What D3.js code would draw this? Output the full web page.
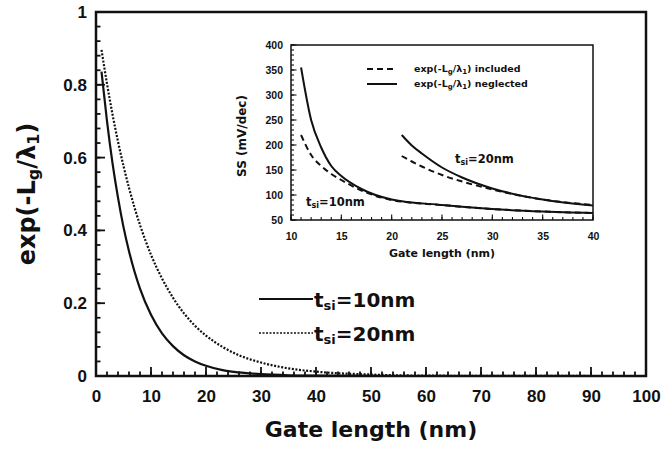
<!DOCTYPE html>
<html>
<head>
<meta charset="utf-8">
<script src="https://cdn.jsdelivr.net/npm/d3@7"></script>
<style>
body { margin: 0; background: #fff; }
svg { display: block; font-family: "DejaVu Sans", sans-serif; font-weight: bold; }
</style>
</head>
<body>
<div id="chart"></div>
<script>
// main plot: exp(-Lg/lambda1) vs gate length
const gateLen = [1, 2, 3, 4, 5, 6, 7, 8, 10, 12, 14, 16, 18, 20, 23, 26, 30, 35, 40, 50, 60, 80, 100];
const expTsi10 = [0.836, 0.700, 0.585, 0.490, 0.409, 0.343, 0.287, 0.240, 0.168, 0.117, 0.082, 0.057, 0.040, 0.028, 0.016, 0.010, 0.005, 0.002, 0.001, 0.0001, 0, 0, 0];
const expTsi20 = [0.896, 0.803, 0.719, 0.644, 0.577, 0.517, 0.463, 0.415, 0.333, 0.268, 0.215, 0.172, 0.138, 0.111, 0.080, 0.057, 0.037, 0.021, 0.012, 0.004, 0.001, 0.0002, 0];
const mainXTicks = [0, 10, 20, 30, 40, 50, 60, 70, 80, 90, 100];
const mainYTicks = [0, 0.2, 0.4, 0.6, 0.8, 1];

// inset: subthreshold swing
const ssLen10 = [11, 12, 13, 14, 15, 17, 20, 25, 30, 35, 40];
const ssNegl10 = [355, 250, 195, 158, 138, 112, 91, 80, 72, 67, 64];
const ssIncl10 = [220, 180, 158, 142, 130, 109, 90, 80, 72, 67, 64];
const ssLen20 = [21, 22, 23, 25, 27, 30, 35, 40];
const ssNegl20 = [220, 199, 183, 155, 135, 113, 91, 79];
const ssIncl20 = [178, 167, 157, 140, 127, 111, 91, 80];
const insetXTicks = [10, 15, 20, 25, 30, 35, 40];
const insetYTicks = [50, 100, 150, 200, 250, 300, 350, 400];

const W = 664, H = 451;
const svg = d3.select("#chart").append("svg")
	.attr("width", W)
	.attr("height", H);
svg.append("rect").attr("width", W).attr("height", H).attr("fill", "#fff");

// write text with subscripts, parts = [[text, isSub], ...]
function richText(sel, parts, subSize) {
	parts.forEach(p => {
		const t = sel.append("tspan").text(p[0]);
		if (p[1]) t.attr("font-size", subSize).attr("baseline-shift", "-25%");
	});
	return sel;
}

// tick labels from d3.axis, tick marks drawn inward by hand
function addLabels(axis, transform, fontSize) {
	const g = svg.append("g").attr("transform", transform).call(axis.tickSize(0));
	g.select(".domain").remove();
	g.selectAll("text").attr("font-size", fontSize).attr("fill", "#111");
	return g;
}
function addTicks(scale, values, vertical, base, len, width) {
	svg.append("g").selectAll("line")
		.data(values)
		.join("line")
		.attr("x1", d => vertical ? base : scale(d))
		.attr("x2", d => vertical ? base + len : scale(d))
		.attr("y1", d => vertical ? scale(d) : base)
		.attr("y2", d => vertical ? scale(d) : base - len)
		.attr("stroke", "#111").attr("stroke-width", width);
}

// ---------- main plot ----------
const X = d3.scaleLinear().domain([0, 100]).range([96, 646]);
const Y = d3.scaleLinear().domain([0, 1]).range([376, 12]);

addTicks(X, d3.range(0, 101, 2), false, 376, 4.5, 1.8);
addTicks(X, mainXTicks, false, 376, 9, 1.8);
addTicks(Y, d3.range(0, 1.001, 0.04), true, 96, 4.5, 1.8);
addTicks(Y, mainYTicks, true, 96, 9, 1.8);
addLabels(d3.axisBottom(X).tickValues(mainXTicks).tickPadding(14), "translate(0,376)", 17);
addLabels(d3.axisLeft(Y).tickValues(mainYTicks).tickPadding(9)
	.tickFormat(d => (d === 0 || d === 1) ? d : d.toFixed(1)), "translate(96,0)", 17);

const mainLine = ys => d3.line()
	.x((d, i) => X(gateLen[i]))
	.y((d, i) => Y(ys[i]))
	.curve(d3.curveMonotoneX)(gateLen);

svg.append("path").attr("d", mainLine(expTsi10))
	.attr("fill", "none").attr("stroke", "#111").attr("stroke-width", 2.2);
svg.append("path").attr("d", mainLine(expTsi20))
	.attr("fill", "none").attr("stroke", "#111").attr("stroke-width", 2.2)
	.attr("stroke-dasharray", "2,1.6");

svg.append("rect")
	.attr("x", 96).attr("y", 12).attr("width", 550).attr("height", 364)
	.attr("fill", "none").attr("stroke", "#111").attr("stroke-width", 2.5);

// axis titles
svg.append("text")
	.attr("x", 371).attr("y", 437)
	.attr("text-anchor", "middle").attr("font-size", 22).attr("fill", "#111")
	.text("Gate length (nm)");

richText(svg.append("text")
	.attr("transform", "translate(35,194) rotate(-90)")
	.attr("text-anchor", "middle").attr("font-size", 24).attr("fill", "#111"),
	[["exp(-L", false], ["g", true], ["/λ", false], ["1", true], [")", false]], 16);

// legend
const leg = svg.append("g");
[["", 299, 307, "10"], ["2,1.5", 333, 341, "20"]].forEach(r => {
	leg.append("line")
		.attr("x1", 259).attr("x2", 313).attr("y1", r[1]).attr("y2", r[1])
		.attr("stroke", "#111").attr("stroke-width", r[0] ? 1.6 : 1.8)
		.attr("stroke-dasharray", r[0] || null);
	richText(leg.append("text").attr("x", 314).attr("y", r[2])
		.attr("font-size", 20).attr("fill", "#111"),
		[["t", false], ["si", true], ["=" + r[3] + "nm", false]], 13);
});

// ---------- inset ----------
const X2 = d3.scaleLinear().domain([10, 40]).range([291, 593]);
const Y2 = d3.scaleLinear().domain([50, 400]).range([220, 45]);

svg.append("rect")
	.attr("x", 291).attr("y", 45).attr("width", 302).attr("height", 175)
	.attr("fill", "#fff");

addTicks(X2, d3.range(10, 40.5, 1), false, 220, 3, 1.1);
addTicks(X2, insetXTicks, false, 220, 5.5, 1.1);
addTicks(Y2, d3.range(50, 401, 10), true, 291, 3, 1.1);
addTicks(Y2, insetYTicks, true, 291, 5.5, 1.1);
addLabels(d3.axisBottom(X2).tickValues(insetXTicks).tickPadding(13), "translate(0,220)", 10.5);
addLabels(d3.axisLeft(Y2).tickValues(insetYTicks).tickPadding(8), "translate(291,0)", 10.5);

const insetLine = (xs, ys) => d3.line()
	.x((d, i) => X2(xs[i]))
	.y((d, i) => Y2(ys[i]))
	.curve(d3.curveMonotoneX)(xs);

[[ssLen10, ssNegl10, null], [ssLen20, ssNegl20, null],
 [ssLen10, ssIncl10, "6,4"], [ssLen20, ssIncl20, "6,4"]].forEach(s => {
	svg.append("path").attr("d", insetLine(s[0], s[1]))
		.attr("fill", "none").attr("stroke", "#111").attr("stroke-width", 2)
		.attr("stroke-dasharray", s[2]);
});

svg.append("rect")
	.attr("x", 291).attr("y", 45).attr("width", 302).attr("height", 175)
	.attr("fill", "none").attr("stroke", "#111").attr("stroke-width", 1.5);

svg.append("text")
	.attr("x", 442).attr("y", 257)
	.attr("text-anchor", "middle").attr("font-size", 11).attr("fill", "#111")
	.text("Gate length (nm)");

svg.append("text")
	.attr("transform", "translate(246,136) rotate(-90)")
	.attr("text-anchor", "middle").attr("font-size", 12).attr("fill", "#111")
	.text("SS (mV/dec)");

// inset legend
[["6,4", 69, 72, "included"], [null, 84, 87, "neglected"]].forEach(r => {
	svg.append("line")
		.attr("x1", 367).attr("x2", 397).attr("y1", r[1]).attr("y2", r[1])
		.attr("stroke", "#111").attr("stroke-width", 2)
		.attr("stroke-dasharray", r[0]);
	richText(svg.append("text").attr("x", 414).attr("y", r[2])
		.attr("font-size", 9.5).attr("fill", "#111"),
		[["exp(-L", false], ["g", true], ["/λ", false], ["1", true], [") " + r[3], false]], 7);
});

richText(svg.append("text").attr("x", 455).attr("y", 163)
	.attr("font-size", 11.5).attr("fill", "#111"),
	[["t", false], ["si", true], ["=20nm", false]], 8);
richText(svg.append("text").attr("x", 306).attr("y", 206)
	.attr("font-size", 11.5).attr("fill", "#111"),
	[["t", false], ["si", true], ["=10nm", false]], 8);
</script>
</body>
</html>
